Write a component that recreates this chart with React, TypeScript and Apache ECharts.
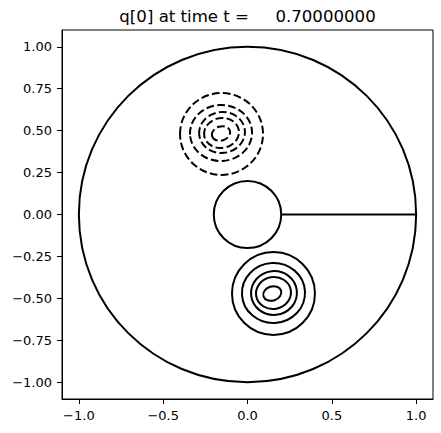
import React, { useEffect, useRef } from "react";
import * as echarts from "echarts";

// Title
const titleText = "q[0] at time t =     0.70000000";

// Axis ticks
const xTicks = [-1.0, -0.5, 0.0, 0.5, 1.0];
const yTicks = [-1.0, -0.75, -0.5, -0.25, 0.0, 0.25, 0.5, 0.75, 1.0];

// Domain boundary circles: [cx, cy, r]
const boundaryCx = [0, 0];
const boundaryCy = [0, 0];
const boundaryR = [1.0, 0.2];

// Cut line
const cutX = [0.2, 1.0];
const cutY = [0.0, 0.0];

// Negative (dashed) contours, approximated as ellipses
const negCx = [-0.154, -0.157, -0.151, -0.154, -0.157];
const negCy = [0.48, 0.486, 0.489, 0.486, 0.483];
const negRx = [0.246, 0.184, 0.136, 0.104, 0.055];
const negRy = [0.244, 0.167, 0.122, 0.089, 0.042];
const negRot = [0, 3, 6, 10, 18];

// Positive (solid) contours, approximated as ellipses
const posCx = [0.154, 0.154, 0.157, 0.154, 0.147];
const posCy = [-0.471, -0.468, -0.468, -0.468, -0.471];
const posRx = [0.246, 0.187, 0.136, 0.104, 0.055];
const posRy = [0.247, 0.179, 0.131, 0.095, 0.042];
const posRot = [0, 3, 6, 10, 18];

const minus = (s: string) => s.replace("-", "\u2212");

export default function App() {
  const ref = useRef<HTMLDivElement>(null);
  useEffect(() => {
    if (!ref.current) return;
    const chart = echarts.init(ref.current, null, { renderer: "svg" });

    const ellipseData = (cx: number[], cy: number[], rx: number[], ry: number[], rot: number[]) =>
      cx.map((_, i) => [cx[i], cy[i], rx[i], ry[i], rot[i]]);

    const renderEllipse = (dashed: boolean) => (params: any, api: any) => {
      const c = api.coord([api.value(0), api.value(1)]);
      const s = api.size([api.value(2), api.value(3)]);
      return {
        type: "ellipse",
        x: c[0],
        y: c[1],
        rotation: (api.value(4) * Math.PI) / 180,
        shape: { cx: 0, cy: 0, rx: s[0], ry: s[1] },
        style: {
          fill: "none",
          stroke: "#000",
          lineWidth: 2,
          lineDash: dashed ? [7.7, 3.3] : null,
        },
      };
    };

    const tickFont = { fontFamily: "DejaVu Sans", fontSize: 13, color: "#000" };

    chart.setOption({
      animation: false,
      backgroundColor: "#fff",
      grid: {
        left: 62,
        top: 30,
        width: 371,
        height: 369,
        show: true,
        borderColor: "#000",
        borderWidth: 1,
        backgroundColor: "transparent",
      },
      graphic: [
        {
          type: "text",
          x: 247.5,
          y: 16.5,
          style: {
            text: titleText,
            fontFamily: "DejaVu Sans",
            fontSize: 16.6,
            fill: "#000",
            textAlign: "center",
            textVerticalAlign: "middle",
          },
        },
      ],
      xAxis: {
        type: "value",
        min: -1.1,
        max: 1.1,
        splitLine: { show: false },
        axisLine: { show: true, onZero: false, lineStyle: { color: "#000", width: 1 } },
        axisTick: { show: true, length: 5, customValues: xTicks, lineStyle: { color: "#000", width: 1 } },
        axisLabel: {
          ...tickFont,
          margin: 10,
          customValues: xTicks,
          formatter: (v: number) => minus(v.toFixed(1)),
        },
      },
      yAxis: {
        type: "value",
        min: -1.1,
        max: 1.1,
        splitLine: { show: false },
        axisLine: { show: true, onZero: false, lineStyle: { color: "#000", width: 1 } },
        axisTick: { show: true, length: 5, customValues: yTicks, lineStyle: { color: "#000", width: 1 } },
        axisLabel: {
          ...tickFont,
          margin: 10,
          customValues: yTicks,
          formatter: (v: number) => minus(v.toFixed(2)),
        },
      },
      series: [
        {
          type: "custom",
          name: "boundary",
          coordinateSystem: "cartesian2d",
          renderItem: renderEllipse(false),
          data: boundaryCx.map((_, i) => [boundaryCx[i], boundaryCy[i], boundaryR[i], boundaryR[i], 0]),
          clip: true,
          silent: true,
        },
        {
          type: "line",
          name: "cut",
          data: cutX.map((x, i) => [x, cutY[i]]),
          showSymbol: false,
          lineStyle: { color: "#000", width: 2 },
          silent: true,
        },
        {
          type: "custom",
          name: "negative",
          coordinateSystem: "cartesian2d",
          renderItem: renderEllipse(true),
          data: ellipseData(negCx, negCy, negRx, negRy, negRot),
          silent: true,
        },
        {
          type: "custom",
          name: "positive",
          coordinateSystem: "cartesian2d",
          renderItem: renderEllipse(false),
          data: ellipseData(posCx, posCy, posRx, posRy, posRot),
          silent: true,
        },
      ],
    });
    return () => chart.dispose();
  }, []);

  return (
    <div
      ref={ref}
      style={{ position: "fixed", left: 0, top: 0, width: 441, height: 433 }}
    />
  );
}
